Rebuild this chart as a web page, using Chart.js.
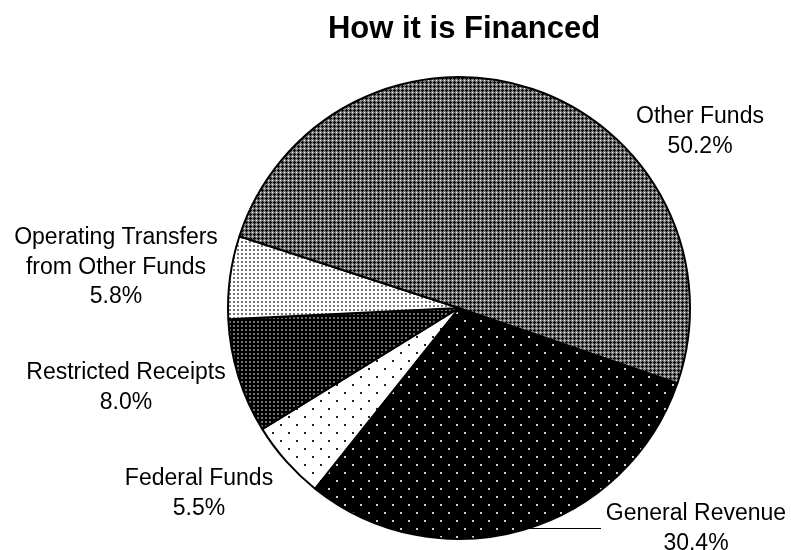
<!DOCTYPE html>
<html>
<head>
<meta charset="utf-8">
<script src="https://cdn.jsdelivr.net/npm/chart.js@4/dist/chart.umd.min.js"></script>
<style>
  html, body { margin: 0; padding: 0; background: #fff; }
  #wrap { width: 791px; height: 550px; }
</style>
</head>
<body>
<div id="wrap"><canvas id="chart" width="791" height="550"></canvas></div>
<script>
// Funding sources (percent of total)
const chartTitle = 'How it is Financed';
const categories = [
  ['General Revenue'],
  ['Federal Funds'],
  ['Restricted Receipts'],
  ['Operating Transfers', 'from Other Funds'],
  ['Other Funds']
];
const shares = [30.4, 5.5, 8.0, 5.8, 50.2];

// Label placement: centre x and first baseline for each slice label
const labelAnchors = [[696, 520], [199, 485], [126, 379], [116, 244], [700, 123]];
const FONT = '"Liberation Sans", Arial, sans-serif';

// Small bitmap fills, one per slice
function tile(size, bg, marks) {
  const c = document.createElement('canvas');
  c.width = size; c.height = size;
  const g = c.getContext('2d');
  g.fillStyle = bg; g.fillRect(0, 0, size, size);
  marks.forEach(([x, y, w, h, col]) => { g.fillStyle = col; g.fillRect(x, y, w, h); });
  return g.createPattern(c, 'repeat');
}
const ctx0 = document.getElementById('chart').getContext('2d');
const fills = [
  // black with sparse white dots
  tile(16, '#000', [[0, 0, 2, 2, '#d0d0d0'], [8, 8, 2, 2, '#d0d0d0']]),
  // white with sparse black dots
  tile(16, '#fff', [[0, 0, 2, 2, '#222'], [8, 8, 2, 2, '#222']]),
  // black with dense white dots
  tile(4, '#000', [[1, 1, 2, 2, '#707070']]),
  // white with dense grey dots
  tile(4, '#fff', [[1, 1, 2, 2, '#777']]),
  // grey cross-hatch
  tile(4, '#7c7c7c', [[0, 0, 1, 1, '#eeeeee'], [2, 1, 1, 3, '#0a0a0a'], [1, 2, 3, 1, '#0a0a0a']])
];

const labelPlugin = {
  id: 'sliceLabels',
  afterDraw(chart) {
    const ctx = chart.ctx;
    ctx.save();
    ctx.fillStyle = '#000';
    ctx.textAlign = 'center';
    ctx.textBaseline = 'alphabetic';

    ctx.font = 'bold 31px ' + FONT;
    ctx.fillText(chartTitle, 464, 38);

    ctx.font = '23px ' + FONT;
    const values = chart.data.datasets[0].data;
    categories.forEach((lines, i) => {
      const [x, y] = labelAnchors[i];
      const rows = lines.concat([values[i].toFixed(1) + '%']);
      rows.forEach((t, k) => ctx.fillText(t, x, y + k * 29.5));
    });

    // leader line for the General Revenue label
    const arc = chart.getDatasetMeta(0).data[0];
    const ly = 528;
    const dy = ly - arc.y;
    const r = arc.outerRadius;
    if (Math.abs(dy) < r) {
      const x0 = arc.x + Math.sqrt(r * r - dy * dy);
      ctx.strokeStyle = '#000';
      ctx.lineWidth = 1;
      ctx.beginPath();
      ctx.moveTo(x0, ly + 0.5);
      ctx.lineTo(601, ly + 0.5);
      ctx.stroke();
    }
    ctx.restore();
  }
};

new Chart(ctx0, {
  type: 'pie',
  data: {
    labels: categories.map(l => l.join(' ')),
    datasets: [{
      data: shares,
      backgroundColor: fills,
      borderColor: '#000',
      borderWidth: 2,
      hoverOffset: 0,
      hoverBorderWidth: 2
    }]
  },
  options: {
    responsive: false,
    devicePixelRatio: 1,
    animation: false,
    rotation: 109,
    radius: 231,
    layout: { padding: { left: 127, top: 66, right: 0, bottom: 0 } },
    plugins: {
      legend: { display: false },
      title: { display: false },
      tooltip: { enabled: false }
    },
    events: []
  },
  plugins: [labelPlugin]
});
</script>
</body>
</html>
